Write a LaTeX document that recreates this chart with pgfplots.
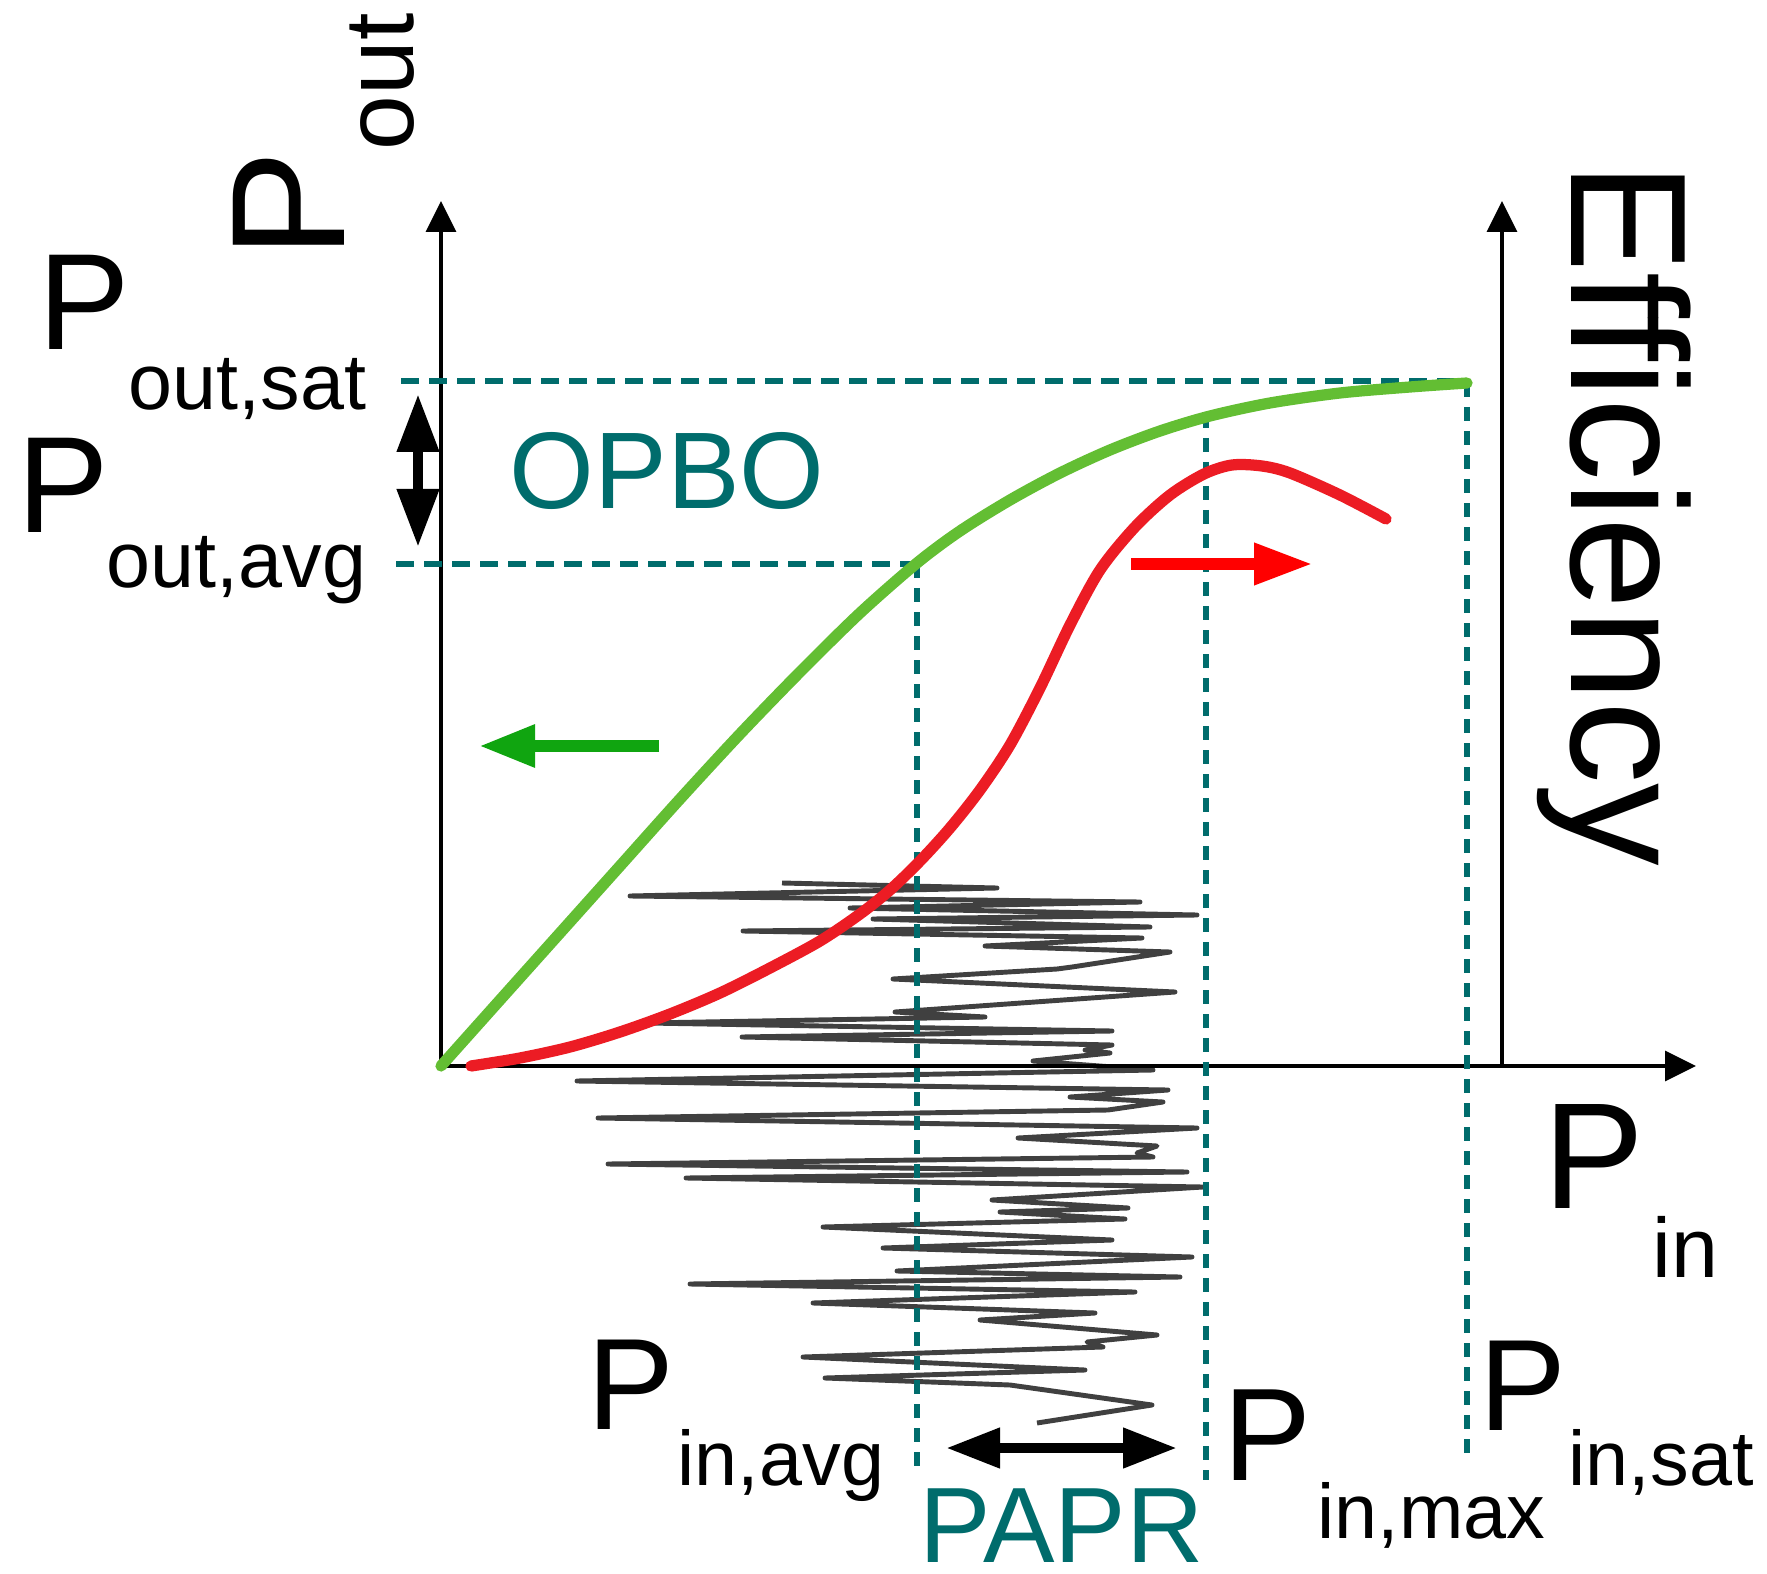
\documentclass[border=0pt]{standalone}
\usepackage{fontspec}
\setmainfont{Liberation Sans}
\usepackage{pgfplots}
\pgfplotsset{compat=1.18}
\usetikzlibrary{arrows.meta}
\definecolor{teal2}{RGB}{0,108,108}
\definecolor{pgreen}{RGB}{99,190,51}
\definecolor{agreen}{RGB}{16,165,16}
\definecolor{pred}{RGB}{236,28,36}
\definecolor{ared}{RGB}{255,0,0}
\definecolor{noise}{RGB}{64,64,64}
\begin{document}
\begin{tikzpicture}
\begin{axis}[width=17.67cm, height=15.74cm, scale only axis,
  xmin=0, xmax=1767, ymin=0, ymax=1574, y dir=reverse,
  hide axis, clip=false]
% bounding box
\addplot[draw=none] coordinates {(0,0) (1767,1574)};
% noise (input signal)
\addplot[noise, line width=1.4pt, sharp plot, line join=round] coordinates {
(782,883) (997,888) (630,896) (1140,902) (850,908) (1197,915) (873,919)
(1150,927) (743,931) (1142,938) (985,946) (1170,952) (1072,967) (1057,969)
(893,979) (1175,992) (895,1012) (985,1017) (647,1023) (1112,1031) (742,1037)
(1112,1045) (1085,1050) (1110,1053) (1033,1061) (1153,1070) (577,1081)
(1168,1090) (1070,1097) (1163,1102) (1108,1110) (598,1118) (1197,1128)
(1018,1138) (1157,1146) (1137,1153) (1153,1157) (608,1164) (1187,1172)
(686,1178) (1203,1187) (992,1200) (1128,1208) (1000,1212) (1125,1219)
(823,1227) (1112,1240) (883,1248) (1192,1257) (897,1271) (1180,1277)
(690,1284) (1135,1292) (813,1303) (1095,1313) (980,1320) (1157,1335)
(1087,1342) (1103,1347) (803,1357) (1085,1370) (825,1378) (1010,1385)
(1152,1405) (1037,1423)};
% axes
\addplot[black, line width=0.9pt, -{Triangle[length=0.31cm,width=0.3cm]}] coordinates {(441,1066) (441,201)};
\addplot[black, line width=0.9pt, -{Triangle[length=0.31cm,width=0.3cm]}] coordinates {(441,1066) (1696,1066)};
\addplot[black, line width=0.9pt, -{Triangle[length=0.31cm,width=0.3cm]}] coordinates {(1502,1066) (1502,201)};
% dashed guide lines
\addplot[teal2, line width=1.7pt, dash pattern=on 0.18cm off 0.1cm] coordinates {(401,381) (1467,381)};
\addplot[teal2, line width=1.7pt, dash pattern=on 0.18cm off 0.1cm] coordinates {(396,564) (917,564)};
\addplot[teal2, line width=1.7pt, dash pattern=on 0.14cm off 0.1cm] coordinates {(917,564) (917,1470)};
\addplot[teal2, line width=1.7pt, dash pattern=on 0.14cm off 0.1cm] coordinates {(1206,414) (1206,1480)};
\addplot[teal2, line width=1.7pt, dash pattern=on 0.14cm off 0.1cm] coordinates {(1467,383) (1467,1453)};
% output power curve
\addplot[pgreen, line width=3.2pt, smooth, line cap=round] coordinates {
(441,1066) (500,1000) (560,933) (620,866) (680,799) (740,734) (800,672)
(860,613) (917,563) (960,531) (1010,500) (1060,473) (1110,450) (1160,431)
(1210,416) (1270,403) (1340,393) (1410,387) (1467,383)};
% efficiency curve
\addplot[pred, line width=3.2pt, smooth, line cap=round] coordinates {
(471,1066) (520,1058) (570,1047) (620,1032) (670,1014) (720,993) (770,968)
(820,941) (860,914) (890,890) (920,861) (950,828) (980,790) (1010,745)
(1040,688) (1070,625) (1100,570) (1135,527) (1170,495) (1204,474) (1232,465)
(1262,466) (1290,473) (1340,495) (1386,519)};
% direction arrows
\addplot[agreen, line width=3.4pt, -{Triangle[length=0.56cm,width=0.4cm]}] coordinates {(659,746) (479,746)};
\addplot[ared, line width=3.6pt, -{Triangle[length=0.59cm,width=0.39cm]}] coordinates {(1131,564) (1313,564)};
% OPBO and PAPR double arrows
\addplot[black, line width=3pt, {Triangle[length=0.58cm,width=0.4cm]}-{Triangle[length=0.58cm,width=0.4cm]}] coordinates {(418,394) (418,547)};
\addplot[black, line width=3pt, {Triangle[length=0.54cm,width=0.38cm]}-{Triangle[length=0.54cm,width=0.38cm]}] coordinates {(946,1448) (1177,1448)};
% labels
\node[rotate=90, anchor=base west, inner sep=0] at (axis cs:344,259) {\fontsize{46}{50}\selectfont P};
\node[rotate=90, anchor=base west, inner sep=0] at (axis cs:413,151) {\fontsize{28}{30}\selectfont out};
\node[rotate=-90, anchor=base west, inner sep=0] at (axis cs:1571,162) {\fontsize{47}{50}\selectfont Efficiency};
\node[anchor=base west, inner sep=0] at (axis cs:38,350) {\fontsize{39}{42}\selectfont P};
\node[anchor=base west, inner sep=0] at (axis cs:128,410) {\fontsize{22.5}{25}\selectfont out,sat};
\node[anchor=base west, inner sep=0] at (axis cs:17,533) {\fontsize{39}{42}\selectfont P};
\node[anchor=base west, inner sep=0] at (axis cs:106,588) {\fontsize{22.5}{25}\selectfont out,avg};
\node[anchor=base west, inner sep=0, text=teal2] at (axis cs:509,509) {\fontsize{31}{34}\selectfont OPBO};
\node[anchor=base west, inner sep=0] at (axis cs:1543,1208) {\fontsize{43}{46}\selectfont P};
\node[anchor=base west, inner sep=0] at (axis cs:1652,1277) {\fontsize{24}{26}\selectfont in};
\node[anchor=base west, inner sep=0] at (axis cs:587,1429) {\fontsize{37}{40}\selectfont P};
\node[anchor=base west, inner sep=0] at (axis cs:677,1485) {\fontsize{22}{25}\selectfont in,avg};
\node[anchor=base west, inner sep=0] at (axis cs:1223,1480) {\fontsize{37.5}{40}\selectfont P};
\node[anchor=base west, inner sep=0] at (axis cs:1317,1538) {\fontsize{22}{25}\selectfont in,max};
\node[anchor=base west, inner sep=0] at (axis cs:1479,1430) {\fontsize{37}{40}\selectfont P};
\node[anchor=base west, inner sep=0] at (axis cs:1568,1485) {\fontsize{22}{25}\selectfont in,sat};
\node[anchor=base west, inner sep=0, text=teal2] at (axis cs:919,1562) {\fontsize{30.5}{33}\selectfont PAPR};
\end{axis}
\end{tikzpicture}
\end{document}
